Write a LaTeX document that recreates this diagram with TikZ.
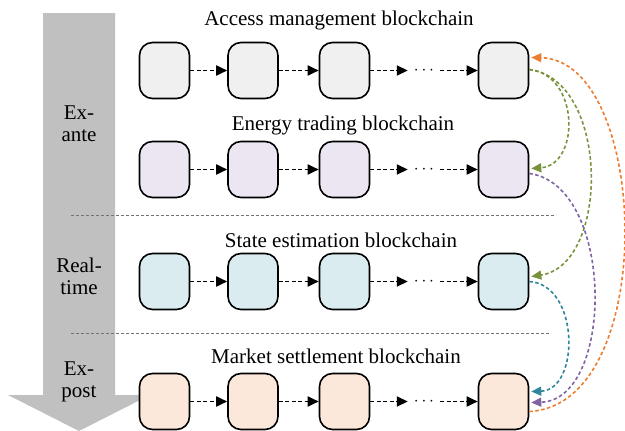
\documentclass[tikz,border=0pt]{standalone}
\usepackage{fontspec}
\setmainfont{Liberation Serif}
\usetikzlibrary{arrows.meta,calc}
\definecolor{c1}{HTML}{F0F0F0}
\definecolor{c2}{HTML}{ECE6F2}
\definecolor{c3}{HTML}{DAECF0}
\definecolor{c4}{HTML}{FCE8DA}
\definecolor{corange}{HTML}{ED7D31}
\definecolor{cgreen}{HTML}{77933C}
\definecolor{cpurple}{HTML}{8064A2}
\definecolor{cteal}{HTML}{31859C}
\definecolor{bigarrow}{HTML}{C0C0C0}
\begin{document}
\begin{tikzpicture}[x=1pt,y=-1pt,
  block/.style={draw=black,line width=1.6pt,rounded corners=13pt,minimum width=50pt,minimum height=56pt,inner sep=0pt},
  chain/.style={draw=black,line width=1.8pt,dash pattern=on 4pt off 2.5pt,-{Triangle[length=11pt,width=10pt]}},
  dotsnode/.style={inner sep=0pt,minimum width=32pt,minimum height=10pt,font=\fontsize{17}{18}\selectfont},
  title/.style={font=\fontsize{21}{22}\selectfont,inner sep=0pt},
  phase/.style={font=\fontsize{21}{22}\selectfont,align=center,inner sep=0pt},
  sep/.style={draw=black!55,line width=1pt,dash pattern=on 3pt off 2pt},
  link/.style={line width=1.6pt,dash pattern=on 3.5pt off 2.5pt}
]
\useasboundingbox (0,0) rectangle (625,431);
% big time arrow
\fill[bigarrow] (43,13) -- (115,13) -- (115,395) -- (150,395) -- (79,431) -- (8,395) -- (43,395) -- cycle;
\node[phase] (p1) at (79,124) {Ex-\\ante};
\node[phase] (p2) at (79,276) {Real-\\time};
\node[phase] (p3) at (79,382) {Ex-\\post};
% separators
\coordinate (s1a) at (71,215); \coordinate (s1b) at (556,215);
\coordinate (s2a) at (71,333); \coordinate (s2b) at (551,333);
\draw[sep] (s1a) -- (s1b);
\draw[sep] (s2a) -- (s2b);
% titles
\node[title] (t1) at (339,20) {Access management blockchain};
\node[title] (t2) at (343,125) {Energy trading blockchain};
\node[title] (t3) at (341,240) {State estimation blockchain};
\node[title] (t4) at (336,356) {Market settlement blockchain};
% rows
\foreach \r/\y/\c in {1/70.5/c1,2/169.5/c2,3/281.5/c3,4/401.5/c4}{
  \node[block,fill=\c] (r\r a) at (164.5,\y) {};
  \node[block,fill=\c] (r\r b) at (253,\y) {};
  \node[block,fill=\c] (r\r c) at (344.5,\y) {};
  \node[dotsnode] (r\r d) at (424,\y) {$\cdots$};
  \node[block,fill=\c] (r\r e) at (503.5,\y) {};
  \draw[chain] (r\r a) -- (r\r b);
  \draw[chain] (r\r b) -- (r\r c);
  \draw[chain] (r\r c) -- (r\r d);
  \draw[chain] (r\r d) -- (r\r e);
}
% cross-chain links
\draw[link,draw=corange,-{Triangle[length=10pt,width=9pt,fill=corange]}] ($(r4e.east)+(0,10)$) .. controls (660,405) and (650,60) .. ($(r1e.east)+(2,-13)$);
\draw[link,draw=cgreen,-{Triangle[length=10pt,width=9pt,fill=cgreen]}] ($(r1e.east)+(0,-1)$) .. controls (580,75) and (580,165) .. ($(r2e.east)+(2,-1)$);
\draw[link,draw=cgreen,-{Triangle[length=10pt,width=9pt,fill=cgreen]}] ($(r1e.east)+(0,-1)$) .. controls (610,80) and (610,265) .. ($(r3e.east)+(2,-5)$);
\draw[link,draw=cpurple,-{Triangle[length=10pt,width=9pt,fill=cpurple]}] ($(r2e.east)+(0,4)$) .. controls (615,185) and (615,400) .. ($(r4e.east)+(2,1)$);
\draw[link,draw=cteal,-{Triangle[length=10pt,width=9pt,fill=cteal]}] ($(r3e.east)+(0,0)$) .. controls (580,285) and (580,390) .. ($(r4e.east)+(2,-10)$);
\end{tikzpicture}
\end{document}
